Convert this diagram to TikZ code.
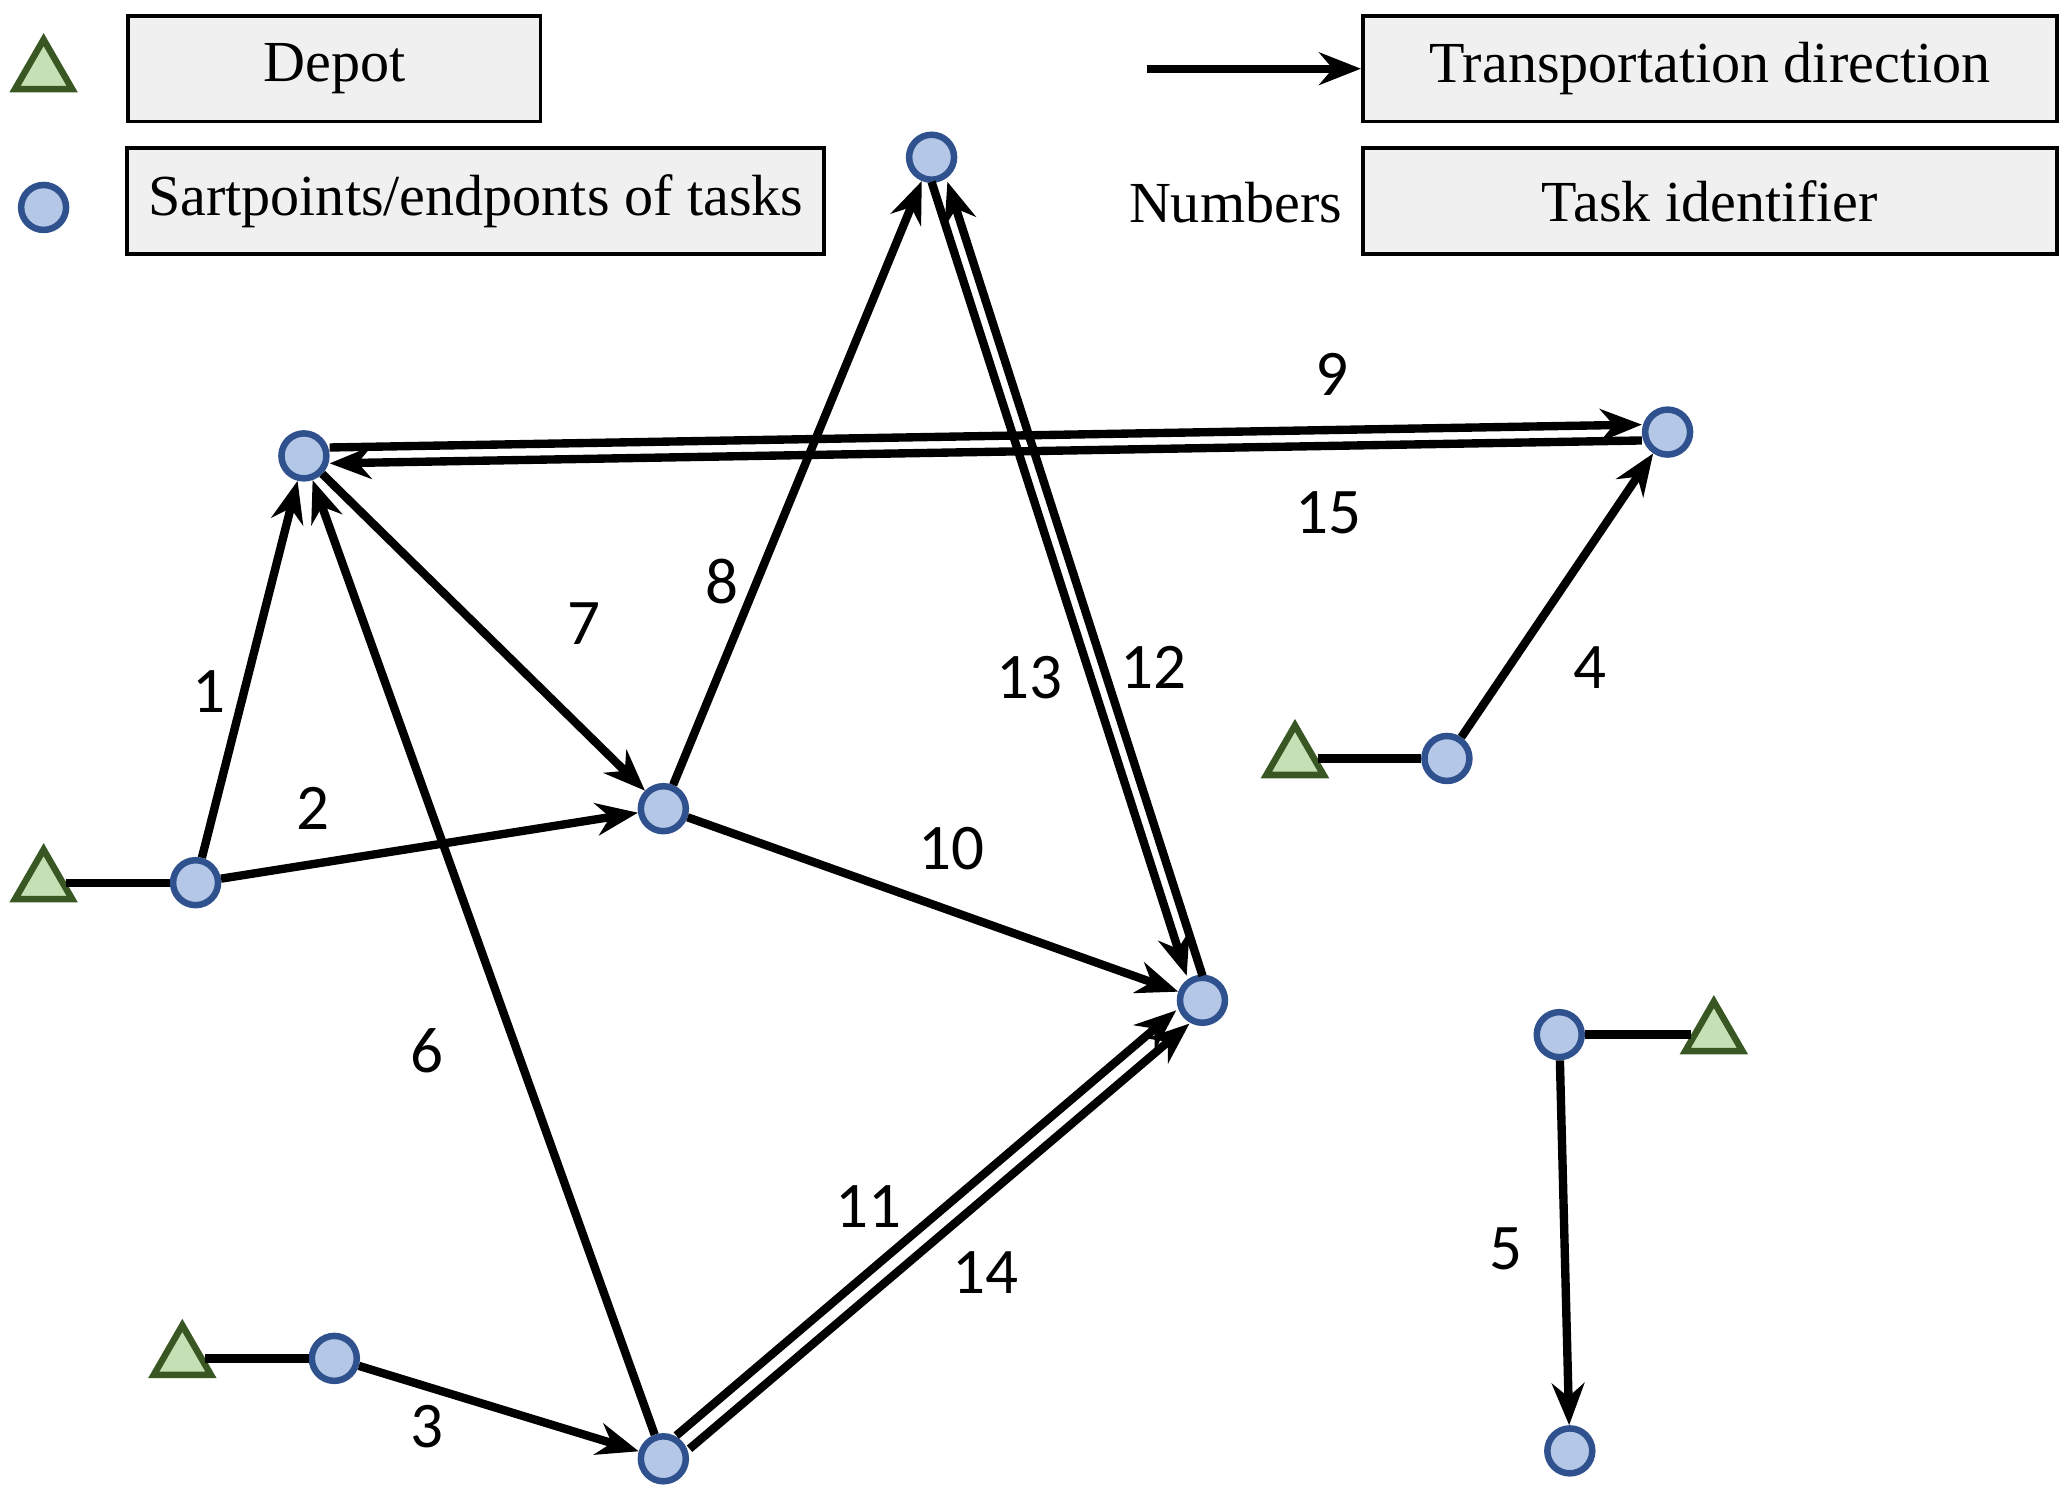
\documentclass[tikz,border=0pt]{standalone}
\usepackage{fontspec}
\setmainfont{Liberation Serif}
\newfontfamily\lab{Carlito}
\usetikzlibrary{arrows.meta,shapes.geometric}
\definecolor{cf}{RGB}{180,199,231}\definecolor{cb}{RGB}{47,82,143}
\definecolor{tf}{RGB}{197,224,180}\definecolor{tb}{RGB}{56,87,35}
\definecolor{bx}{RGB}{240,240,240}
\begin{document}
\begin{tikzpicture}[x=0.01cm,y=-0.01cm,
 pt/.style={circle,draw=cb,fill=cf,line width=1.4pt,minimum size=0.34cm,inner sep=0},
 dp/.style={regular polygon,regular polygon sides=3,draw=tb,fill=tf,line width=1.4pt,minimum size=0.5cm,inner sep=0},
 ln/.style={line width=1.8pt},
 arr/.style={ln,-{Stealth[length=9pt,width=7pt]}},
 lb/.style={font=\lab\fontsize{14}{16}\selectfont},
 box/.style={draw,fill=bx,line width=0.8pt,inner sep=0,font=\fontsize{12.5}{15}\selectfont}]
\useasboundingbox (0,0) rectangle (1565,1134);
% legend
\node[dp] (L1) at (33,55) {};
\node[box,minimum width=3.12cm,minimum height=0.8cm] (b1) at (253,52) {Depot};
\node[pt] (L2) at (33,157) {};
\node[box,minimum width=5.27cm,minimum height=0.8cm] (b2) at (360,152) {Sartpoints/endponts of tasks};
\coordinate (la) at (868,52);
\node[box,minimum width=5.25cm,minimum height=0.8cm] (b3) at (1294,52) {Transportation direction};
\draw[arr] (la) -- (b3.west);
\node[font=\fontsize{12.5}{15}\selectfont] (num) at (935,153) {Numbers};
\node[box,minimum width=5.25cm,minimum height=0.8cm] (b4) at (1294,152) {Task identifier};
% nodes
\node[pt] (A) at (230,345) {};
\node[pt] (B) at (148,668) {};
\node[pt] (C) at (502,612) {};
\node[pt] (D) at (705,119) {};
\node[pt] (E) at (1262,327) {};
\node[pt] (F) at (910,757) {};
\node[pt] (G) at (502,1104) {};
\node[pt] (H) at (253,1028) {};
\node[pt] (I) at (1095,574) {};
\node[pt] (J) at (1180,783) {};
\node[pt] (K) at (1188,1098) {};
\node[dp] (T1) at (33,668) {};
\node[dp] (T2) at (980,574) {};
\node[dp] (T3) at (138,1028) {};
\node[dp] (T4) at (1297,783) {};
\draw[ln] (T1) -- (B); \draw[ln] (T2) -- (I);
\draw[ln] (T3) -- (H); \draw[ln] (T4) -- (J);
% arrows
\draw[arr] (B) -- (A); \draw[arr] (B) -- (C); \draw[arr] (H) -- (G);
\draw[arr] (I) -- (E); \draw[arr] (J) -- (K); \draw[arr] (G) -- (A);
\draw[arr] (A) -- (C); \draw[arr] (C) -- (D); \draw[arr] (C) -- (F);
\draw[arr,transform canvas={yshift=0.06cm}] (A) -- (E);
\draw[arr,transform canvas={yshift=-0.06cm}] (E) -- (A);
\draw[arr,transform canvas={xshift=-0.05cm,yshift=0.05cm}] (G) -- (F);
\draw[arr,transform canvas={xshift=0.05cm,yshift=-0.05cm}] (G) -- (F);
\draw[arr,transform canvas={xshift=-0.06cm}] (D) -- (F);
\draw[arr,transform canvas={xshift=0.06cm}] (F) -- (D);
% labels
\node[lb] (n1) at (158,523) {1}; \node[lb] (n2) at (237,612) {2};
\node[lb] (n3) at (323,1080) {3}; \node[lb] (n4) at (1203,505) {4};
\node[lb] (n5) at (1140,945) {5}; \node[lb] (n6) at (323,795) {6};
\node[lb] (n7) at (442,472) {7}; \node[lb] (n8) at (546,440) {8};
\node[lb] (n9) at (1008,283) {9}; \node[lb] (n15) at (1005,388) {15};
\node[lb] (n10) at (720,642) {10}; \node[lb] (n11) at (657,913) {11};
\node[lb] (n14) at (746,963) {14}; \node[lb] (n13) at (779,513) {13};
\node[lb] (n12) at (873,505) {12};
\end{tikzpicture}
\end{document}
